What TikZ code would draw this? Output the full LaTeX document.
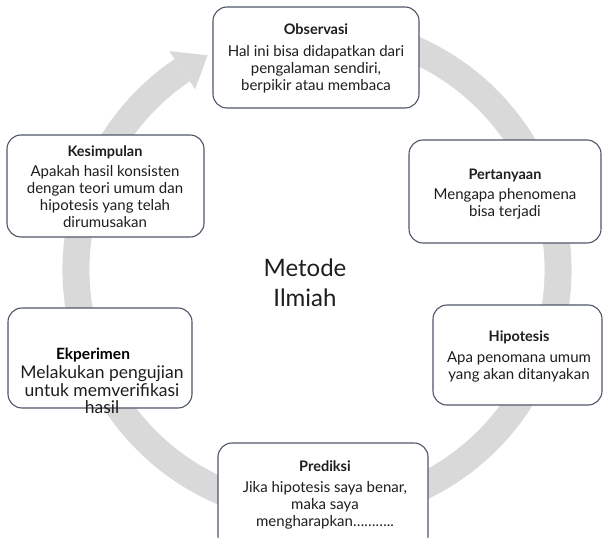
\documentclass[tikz,border=0pt]{standalone}
\usepackage{fontspec}
\setmainfont{Lato}
\usetikzlibrary{calc}
\definecolor{ringgray}{HTML}{D9D9D9}
\definecolor{boxline}{HTML}{4F5668}
\definecolor{ink}{HTML}{1E1E1E}
\tikzset{
  panel/.style={draw=boxline, line width=1.1pt, fill=white, rounded corners=14pt, inner sep=0pt},
  head/.style={font=\fontsize{14.5}{17}\selectfont\bfseries, text=ink, inner sep=0pt},
  body/.style={font=\fontsize{15}{17}\selectfont, text=ink, align=center, inner sep=0pt},
  ringline/.style={draw=ringgray, line width=27pt},
}
\begin{document}
\begin{tikzpicture}[x=1pt,y=-1pt]
\useasboundingbox (0,0) rectangle (603,538);
\clip (0,0) rectangle (603,538);

% cycle ring with arrow head
\coordinate (C) at (317,270);
\draw[ringline] ($(C)+(-70:241)$) arc[start angle=-70, end angle=236, radius=241];
\fill[ringgray] ($(C)+(236:218)$) -- ($(C)+(236:264)$) -- ($(C)+(243:241)$) -- cycle;

% centre title
\node[font=\fontsize{24}{30}\selectfont, text=ink, align=center] (title) at (305,283) {Metode\\Ilmiah};

% boxes
\node[panel, minimum width=206pt, minimum height=101pt] (obs) at (316,57.5) {};
\node[panel, minimum width=192pt, minimum height=103pt] (per) at (505,191.5) {};
\node[panel, minimum width=169pt, minimum height=100pt] (hip) at (517.5,355) {};
\node[panel, minimum width=210pt, minimum height=107pt] (pre) at (323,496.5) {};
\node[panel, minimum width=184pt, minimum height=100pt] (eks) at (100,358) {};
\node[panel, minimum width=197pt, minimum height=102pt] (kes) at (105.5,186) {};

% box texts
\node[head] (obsT) at (316,29) {Observasi};
\node[body] (obsB) at (316,69) {Hal ini bisa didapatkan dari\\pengalaman sendiri,\\berpikir atau membaca};

\node[head] (perT) at (505,175) {Pertanyaan};
\node[body] (perB) at (505,204) {Mengapa phenomena\\bisa terjadi};

\node[head] (hipT) at (519,337) {Hipotesis};
\node[body] (hipB) at (519,366.5) {Apa penomana umum\\yang akan ditanyakan};

\node[head] (preT) at (325,466) {Prediksi};
\node[body] (preB) at (325,505) {Jika hipotesis saya benar,\\maka saya\\mengharapkan\dots\dots\dots..};

\node[head, font=\fontsize{15.5}{18}\selectfont\bfseries, text=black] (eksT) at (93,355) {Ekperimen};
\node[body, font=\fontsize{17.5}{17.5}\selectfont] (eksB) at (102,390) {Melakukan pengujian\\untuk memverifikasi\\hasil};

\node[head] (kesT) at (105,152) {Kesimpulan};
\node[body] (kesB) at (105,197) {Apakah hasil konsisten\\dengan teori umum dan\\hipotesis yang telah\\dirumusakan};
\end{tikzpicture}
\end{document}
